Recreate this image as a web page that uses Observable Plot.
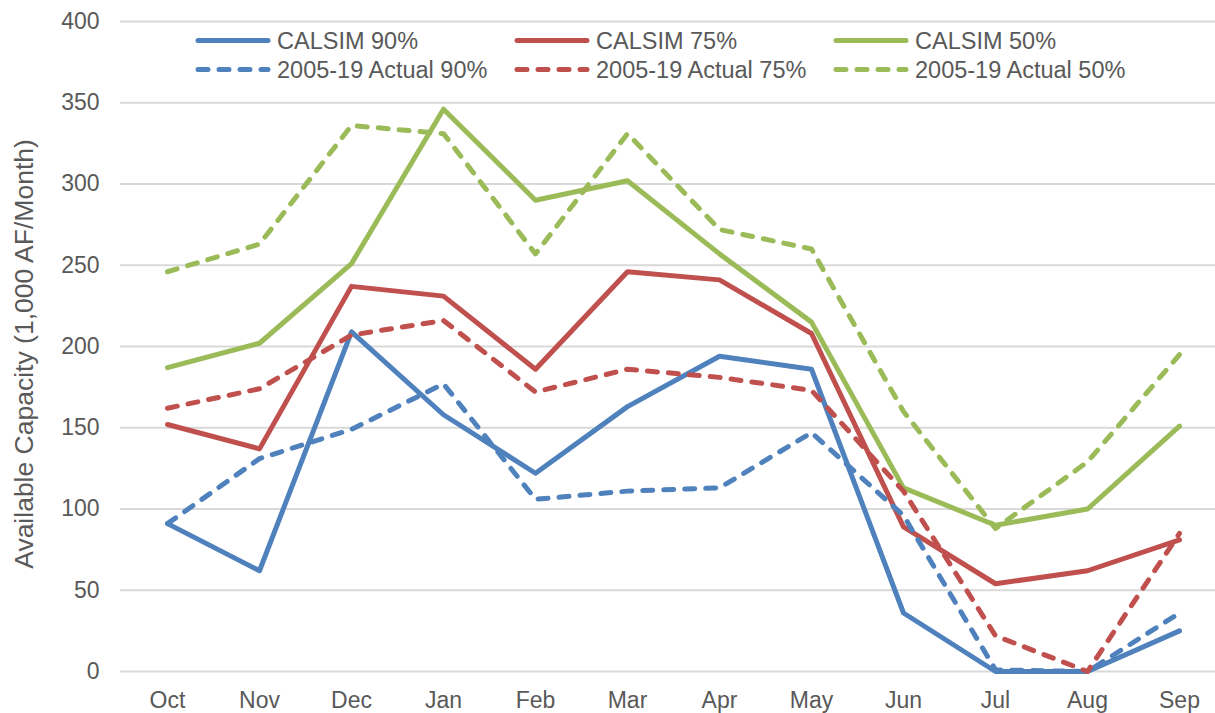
<!DOCTYPE html>
<html>
<head>
<meta charset="utf-8">
<script src="https://cdn.jsdelivr.net/npm/d3@7"></script>
<script src="https://cdn.jsdelivr.net/npm/@observablehq/plot@0.6"></script>
<style>
  html, body { margin: 0; padding: 0; background: #ffffff; }
  #wrap { position: relative; width: 1215px; height: 713px; font-family: "Liberation Sans", Arial, sans-serif; color: #595959; }
  #ylabel { position: absolute; left: 24px; top: 354px; transform: translate(-50%, -50%) rotate(-90deg); white-space: nowrap; font-size: 26.5px; }
  .leg { position: absolute; display: flex; align-items: center; font-size: 23.5px; white-space: nowrap; transform: translateY(-50%); }
  .leg svg { margin-right: 6px; }
</style>
</head>
<body>
<div id="wrap"></div>
<script>
const months = ["Oct", "Nov", "Dec", "Jan", "Feb", "Mar", "Apr", "May", "Jun", "Jul", "Aug", "Sep"];
const calsim90 = [91, 62, 209, 158, 122, 163, 194, 186, 36, 0, 0, 25];
const calsim75 = [152, 137, 237, 231, 186, 246, 241, 208, 89, 54, 62, 81];
const calsim50 = [187, 202, 251, 346, 290, 302, 257, 215, 113, 90, 100, 151];
const actual90 = [91, 131, 149, 177, 106, 111, 113, 147, 96, 1, 0, 36];
const actual75 = [162, 174, 207, 216, 172, 186, 181, 173, 111, 22, 0, 85];
const actual50 = [246, 263, 336, 331, 257, 331, 272, 260, 160, 88, 129, 195];
const yTicks = [0, 50, 100, 150, 200, 250, 300, 350, 400];

const seriesNames = ["CALSIM 90%", "CALSIM 75%", "CALSIM 50%", "2005-19 Actual 90%", "2005-19 Actual 75%", "2005-19 Actual 50%"];
const seriesValues = [calsim90, calsim75, calsim50, actual90, actual75, actual50];
const seriesColors = ["#4F81BD", "#C0504D", "#9BBB59", "#4F81BD", "#C0504D", "#9BBB59"];
const seriesDashed = [false, false, false, true, true, true];

const rows = [];
seriesNames.forEach((name, i) => {
  months.forEach((m, j) => rows.push({series: name, month: m, value: seriesValues[i][j], dashed: seriesDashed[i]}));
});

const DASH = "10,11";

const chart = Plot.plot({
  width: 1215,
  height: 713,
  marginLeft: 120,
  marginRight: 0,
  marginTop: 21,
  marginBottom: 42,
  style: {background: "#ffffff", fontFamily: "'Liberation Sans', Arial, sans-serif", fontSize: "23px", color: "#595959"},
  x: {type: "point", domain: months, range: [166, 1179], padding: 0, label: null},
  y: {domain: [0, 400], label: null},
  color: {domain: seriesNames, range: seriesColors},
  marks: [
    Plot.ruleY(yTicks, {stroke: "#D9D9D9", strokeWidth: 2}),
    Plot.axisX({tickSize: 0, tickPadding: 20, fontSize: 23, fill: "#595959"}),
    Plot.axisY({ticks: yTicks, tickSize: 0, tickPadding: 21, fontSize: 23, fill: "#595959"}),
    Plot.line(rows.filter(d => !d.dashed), {x: "month", y: "value", z: "series", stroke: "series", strokeWidth: 5, strokeLinejoin: "round", strokeLinecap: "round"}),
    Plot.line(rows.filter(d => d.dashed), {x: "month", y: "value", z: "series", stroke: "series", strokeWidth: 5, strokeDasharray: DASH, strokeLinejoin: "round", strokeLinecap: "round"})
  ]
});

const wrap = document.getElementById("wrap");
wrap.appendChild(chart);

const ylab = document.createElement("div");
ylab.id = "ylabel";
ylab.textContent = "Available Capacity (1,000 AF/Month)";
wrap.appendChild(ylab);

const legCols = [198, 517, 836];
const legRows = [40.5, 69.5];
seriesNames.forEach((name, i) => {
  const item = document.createElement("div");
  item.className = "leg";
  item.style.left = (legCols[i % 3] - 3) + "px";
  item.style.top = legRows[Math.floor(i / 3)] + "px";
  const dash = seriesDashed[i] ? ` stroke-dasharray="${DASH}"` : "";
  item.innerHTML = `<svg width="76" height="10"><line x1="3" y1="5" x2="73" y2="5" stroke="${seriesColors[i]}" stroke-width="5" stroke-linecap="round"${dash}/></svg><span>${name}</span>`;
  wrap.appendChild(item);
});
</script>
</body>
</html>
